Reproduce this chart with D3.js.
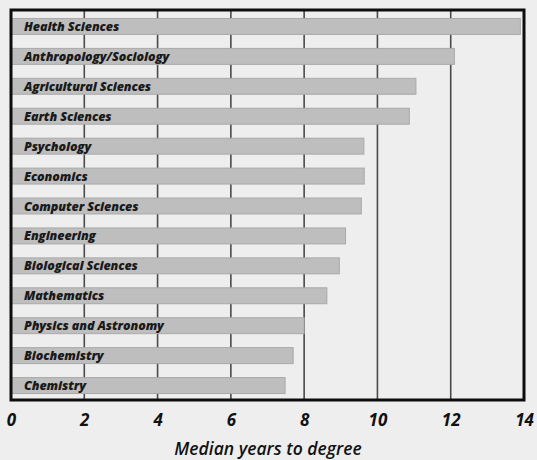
<!DOCTYPE html>
<html>
<head>
<meta charset="utf-8">
<script src="https://cdn.jsdelivr.net/npm/d3@7"></script>
<style>
  body{margin:0;background:#eeeeee;}
  svg{display:block;}
  .lab{font-family:"Open Sans",sans-serif;font-style:italic;font-weight:800;font-size:12.5px;fill:#1a1a1a;letter-spacing:-0.1px;}
  .tick text{font-family:"Open Sans",sans-serif;font-style:italic;font-weight:700;font-size:17px;fill:#111;}
  .title{font-family:"Open Sans",sans-serif;font-style:italic;font-weight:600;font-size:17.5px;fill:#111;}
</style>
</head>
<body>
<svg id="chart" width="537" height="460"></svg>
<script>
// fields, top to bottom
var fields = ['Health Sciences','Anthropology/Sociology','Agricultural Sciences','Earth Sciences',
  'Psychology','Economics','Computer Sciences','Engineering','Biological Sciences',
  'Mathematics','Physics and Astronomy','Biochemistry','Chemistry'];
var years = [13.9, 12.1, 11.05, 10.87, 9.63, 9.64, 9.56, 9.13, 8.96, 8.62, 8.0, 7.7, 7.48];
var ticks = [0, 2, 4, 6, 8, 10, 12, 14];

var svg = d3.select('#chart');
var pLeft = 11, pRight = 524, pTop = 10, pBottom = 400;

var x = d3.scaleLinear().domain([0, 14]).range([pLeft, pRight]);
var y = d3.scaleBand().domain(fields).range([pTop + 1, pBottom + 1]).paddingInner(0.467).paddingOuter(0.25);

svg.append('rect').attr('x', pLeft).attr('y', pTop).attr('width', pRight - pLeft).attr('height', pBottom - pTop)
  .attr('fill', '#eeeeee');

// gridlines
svg.append('g').selectAll('line')
  .data(ticks.slice(1, -1))
  .enter().append('line')
  .attr('x1', function(d){ return x(d); }).attr('x2', function(d){ return x(d); })
  .attr('y1', pTop).attr('y2', pBottom)
  .attr('stroke', '#4a4a4a').attr('stroke-width', 1.6);

// bars
svg.append('g').selectAll('rect')
  .data(fields)
  .enter().append('rect')
  .attr('x', x(0))
  .attr('y', function(d){ return y(d); })
  .attr('width', function(d, i){ return x(years[i]) - x(0); })
  .attr('height', y.bandwidth())
  .attr('fill', '#bebebe').attr('stroke', '#a9a9a9').attr('stroke-width', 1);

svg.append('g').selectAll('text')
  .data(fields)
  .enter().append('text')
  .attr('class', 'lab')
  .attr('x', 24)
  .attr('y', function(d){ return y(d) + y.bandwidth() / 2 + 4.5; })
  .text(function(d){ return d; });

// frame
svg.append('rect').attr('x', pLeft).attr('y', pTop).attr('width', pRight - pLeft).attr('height', pBottom - pTop)
  .attr('fill', 'none').attr('stroke', '#0d0d0d').attr('stroke-width', 3);

var axis = d3.axisBottom(x).tickValues(ticks).tickSize(0).tickPadding(14);
var ag = svg.append('g').attr('transform', 'translate(0,' + pBottom + ')').call(axis);
ag.select('.domain').remove();

svg.append('text').attr('class', 'title')
  .attr('x', 268).attr('y', 455).attr('text-anchor', 'middle')
  .text('Median years to degree');
</script>
</body>
</html>
